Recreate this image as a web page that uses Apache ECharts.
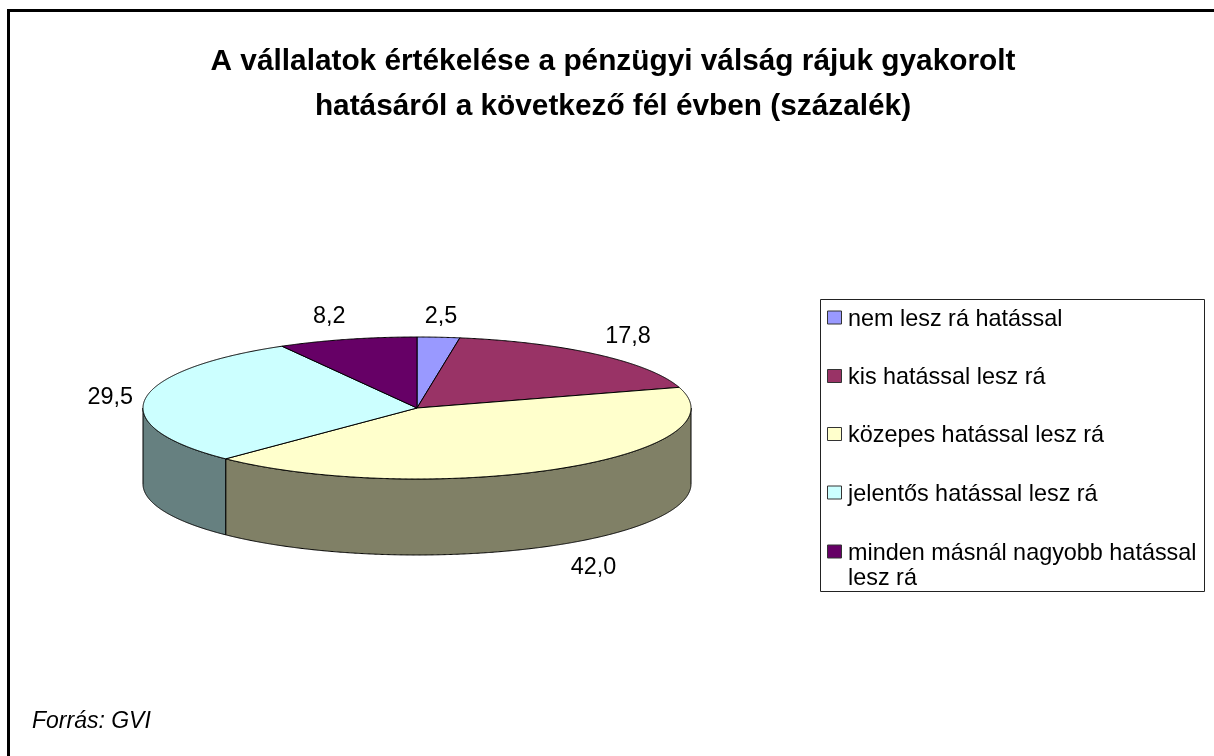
<!DOCTYPE html>
<html>
<head>
<meta charset="utf-8">
<style>html,body{margin:0;padding:0;background:#fff}#c{width:1214px;height:756px}</style>
<script src="https://cdn.jsdelivr.net/npm/echarts@6/dist/echarts.min.js"></script>
</head>
<body>
<div id="c"></div>
<script>
const categories = ['nem lesz rá hatással', 'kis hatással lesz rá', 'közepes hatással lesz rá', 'jelentős hatással lesz rá', 'minden másnál nagyobb hatással\nlesz rá'];
const values = [2.5, 17.8, 42.0, 29.5, 8.2];
const topColors = ['#9999FF', '#993366', '#FFFFCC', '#CCFFFF', '#660066'];
const sideColors = ['#4D4D80', '#4D1A33', '#808066', '#668080', '#330033'];
const titleText = 'A vállalatok értékelése a pénzügyi válság rájuk gyakorolt\nhatásáról a következő fél évben (százalék)';
const sourceText = 'Forrás: GVI';

const FONT = '"Liberation Sans", Arial, sans-serif';
const pie = { cx: 417, cy: 408, rx: 274, ry: 71, depth: 76 };
const labelOffsets = [[2.5, -21], [31, -18], [34, 23], [-35, -1], [-18, -23]];
const legendBox = { x: 820.5, y: 299.5, w: 384, h: 292 };
const legendRows = [318, 376.5, 434.5, 493, 552];
const total = values.reduce((a, b) => a + b, 0);

function pt(deg, dy) {
  const r = deg * Math.PI / 180;
  return [pie.cx + pie.rx * Math.sin(r), pie.cy - pie.ry * Math.cos(r) + (dy || 0)];
}
function arc(a0, a1, dy) {
  const out = [];
  const n = Math.max(1, Math.ceil(Math.abs(a1 - a0) * 4));
  for (let i = 0; i <= n; i++) out.push(pt(a0 + (a1 - a0) * i / n, dy));
  return out;
}
function renderSlice(params, api) {
  const i = api.value(0);
  const before = values.slice(0, i).reduce((a, b) => a + b, 0);
  const a0 = before / total * 360;
  const a1 = (before + api.value(1)) / total * 360;
  const children = [];
  const s0 = Math.max(a0, 90), s1 = Math.min(a1, 270);
  if (s1 > s0) {
    children.push({
      type: 'polygon', z2: 1,
      shape: { points: arc(s0, s1, 0).concat(arc(s1, s0, pie.depth)) },
      style: { fill: sideColors[i], stroke: '#000', lineWidth: 1, lineJoin: 'round' }
    });
  }
  children.push({
    type: 'polygon', z2: 2,
    shape: { points: [[pie.cx, pie.cy]].concat(arc(a0, a1, 0)) },
    style: { fill: topColors[i], stroke: '#000', lineWidth: 1, lineJoin: 'round' }
  });
  const mid = (a0 + a1) / 2;
  const front = mid > 90 && mid < 270;
  const p = pt(mid, front ? pie.depth : 0);
  children.push({
    type: 'text', z2: 3,
    x: p[0] + labelOffsets[i][0], y: p[1] + labelOffsets[i][1],
    style: { text: api.value(1).toFixed(1).replace('.', ','), font: '23.4px ' + FONT, fill: '#000', align: 'center', verticalAlign: 'middle' }
  });
  return { type: 'group', children };
}

const legendGraphics = [{
  type: 'rect', shape: { x: legendBox.x, y: legendBox.y, width: legendBox.w, height: legendBox.h },
  style: { fill: '#fff', stroke: '#222', lineWidth: 1 }
}];
categories.forEach((name, i) => {
  legendGraphics.push({
    type: 'rect', shape: { x: 827.5, y: legendRows[i] - 7, width: 14, height: 13 },
    style: { fill: topColors[i], stroke: '#333', lineWidth: 1 }
  });
  legendGraphics.push({
    type: 'text', x: 848, y: legendRows[i] - 11,
    style: { text: name, font: '23.4px ' + FONT, fill: '#000', lineHeight: 25, align: 'left', verticalAlign: 'top' }
  });
});

const chart = echarts.init(document.getElementById('c'), null, { renderer: 'canvas' });
chart.setOption({
  animation: false,
  backgroundColor: '#fff',
  title: {
    text: titleText, left: 608, top: 34, textAlign: 'center',
    textStyle: { fontFamily: FONT, fontWeight: 'bold', fontSize: 29.8, lineHeight: 45, color: '#000' }
  },
  series: [{
    type: 'custom', coordinateSystem: 'none', renderItem: renderSlice, silent: true,
    data: values.map((v, i) => [i, v])
  }],
  graphic: { elements: [
    { type: 'polyline', shape: { points: [[8.5, 756], [8.5, 10.5], [1214, 10.5]] }, style: { fill: null, stroke: '#000', lineWidth: 3 } },
    { type: 'text', x: 32, y: 722, style: { text: sourceText, font: 'italic 23px ' + FONT, fill: '#000', verticalAlign: 'middle' } }
  ].concat(legendGraphics) }
});
</script>
</body>
</html>
